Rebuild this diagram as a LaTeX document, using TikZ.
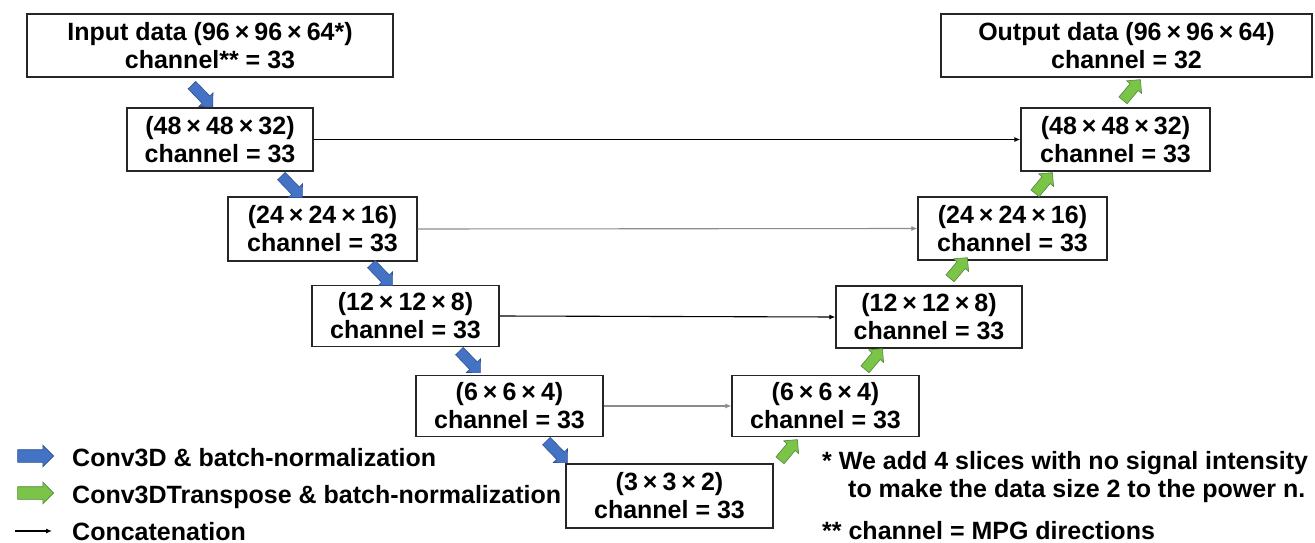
\documentclass[tikz,border=0pt]{standalone}
\usepackage{fontspec}
\setmainfont{Liberation Sans}
\usetikzlibrary{shapes.arrows,arrows.meta}
\definecolor{convblue}{RGB}{68,114,196}
\definecolor{convblueedge}{RGB}{47,82,143}
\definecolor{tgreen}{RGB}{122,196,72}
\definecolor{tgreenedge}{RGB}{84,132,62}
\newcommand{\mytimes}{\hspace{5pt}×\hspace{5pt}}
\tikzset{
  every node/.style={font=\fontsize{25}{28}\selectfont\bfseries},
  layer/.style={draw=black!85, line width=1.3pt, fill=white, align=center, inner sep=0pt, minimum height=63pt},
  blockarrow/.style={single arrow, line width=0.6pt, inner xsep=0pt, inner ysep=5pt, single arrow head extend=4.5pt, single arrow head indent=0pt},
  downarrow/.style={blockarrow, fill=convblue, draw=convblueedge, minimum height=30pt},
  uparrow/.style={blockarrow, fill=tgreen, draw=tgreenedge, minimum height=27pt},
  concat/.style={draw=black, line width=1.1pt, -{Latex[length=6pt,width=5pt]}},
  note/.style={anchor=base west, inner sep=0pt}
}
\begin{document}
\begin{tikzpicture}[x=1pt, y=-1pt]
\useasboundingbox (0,0) rectangle (1315,543);
% boxes
\node[layer, minimum width=366pt] (in) at (210,45.5) {Input data (96\mytimes96\mytimes64*)\\channel** = 33};
\node[layer, minimum width=186pt] (d48) at (220,139.5) {(48\mytimes48\mytimes32)\\channel = 33};
\node[layer, minimum width=189pt, minimum height=64pt] (d24) at (322.5,229) {(24\mytimes24\mytimes16)\\channel = 33};
\node[layer, minimum width=187pt, minimum height=61pt] (d12) at (405.5,316) {(12\mytimes12\mytimes8)\\channel = 33};
\node[layer, minimum width=187pt, minimum height=61pt] (d6) at (509.5,406) {(6\mytimes6\mytimes4)\\channel = 33};
\node[layer, minimum width=207pt, minimum height=64pt] (d3) at (669.5,496) {(3\mytimes3\mytimes2)\\channel = 33};
\node[layer, minimum width=187pt, minimum height=61pt] (u6) at (825.5,406) {(6\mytimes6\mytimes4)\\channel = 33};
\node[layer, minimum width=186pt, minimum height=62pt] (u12) at (929,317) {(12\mytimes12\mytimes8)\\channel = 33};
\node[layer, minimum width=189pt] (u24) at (1012.5,228.5) {(24\mytimes24\mytimes16)\\channel = 33};
\node[layer, minimum width=189pt] (u48) at (1115.5,139.5) {(48\mytimes48\mytimes32)\\channel = 33};
\node[layer, minimum width=371pt] (out) at (1126.5,45.5) {Output data (96\mytimes96\mytimes64)\\channel = 32};
% concatenations
\draw[concat] (d48.east) -- (u48.west);
\draw[concat, draw=black!45] (d24.east) -- (u24.west);
\draw[concat] (d12.east) -- (u12.west);
\draw[concat, draw=black!45] (d6.east) -- (u6.west);
% conv arrows
\node[downarrow, rotate=-46] (a1) at (200.5,94) {};
\node[downarrow, rotate=-46] (a2) at (290,185) {};
\node[downarrow, rotate=-46] (a3) at (380,273) {};
\node[downarrow, rotate=-46] (a4) at (468,360) {};
\node[downarrow, rotate=-46] (a5) at (555,450) {};
% transpose arrows
\node[uparrow, rotate=50] (g1) at (787,452) {};
\node[uparrow, rotate=50] (g2) at (872,361) {};
\node[uparrow, rotate=50] (g3) at (957,270) {};
\node[uparrow, rotate=50] (g4) at (1042,185) {};
\node[uparrow, rotate=50] (g5) at (1130,92) {};
% legend
\node[downarrow, minimum height=36pt, inner ysep=6pt] (la) at (32.5,456) {};
\node[uparrow, minimum height=36pt, inner ysep=6pt] (lb) at (32.5,493) {};
\coordinate (lc1) at (15,531);
\coordinate (lc2) at (52,531);
\draw[concat] (lc1) -- (lc2);
\node[note] (lt1) at (72,466) {Conv3D \& batch-normalization};
\node[note] (lt2) at (72,503) {Conv3DTranspose \& batch-normalization};
\node[note] (lt3) at (72,540) {Concatenation};
% footnotes
\node[note] (fn1) at (822,469) {* We add 4 slices with no signal intensity};
\node[note] (fn2) at (848,497) {to make the data size 2 to the power n.};
\node[note] (fn3) at (822,539) {** channel = MPG directions};
\end{tikzpicture}
\end{document}
